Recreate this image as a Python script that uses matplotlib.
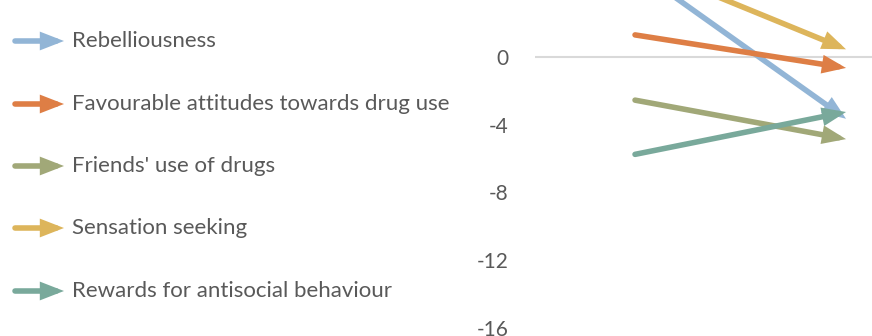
import matplotlib
matplotlib.use("Agg")
import matplotlib.pyplot as plt
from matplotlib.patches import FancyArrowPatch

plt.rcParams['font.family'] = ['Lato', 'DejaVu Sans']

series = ["Rebelliousness", "Favourable attitudes towards drug use",
          "Friends' use of drugs", "Sensation seeking",
          "Rewards for antisocial behaviour"]
start_vals = [5.2, 1.3, -2.55, 5.55, -5.75]
end_vals = [-3.65, -0.65, -4.85, 0.45, -3.25]
colors = ["#92b5d6", "#de7e45", "#a1a878", "#ddb55b", "#79a99b"]
yticks = [0, -4, -8, -12, -16]

W, H = 872, 336
fig = plt.figure(figsize=(W / 100, H / 100), dpi=100)

ax_left, ax_right = 535, 872
ax = fig.add_axes([ax_left / W, 0, (ax_right - ax_left) / W, 1])
ax.set_xlim(-0.474, 1.123)
ax.set_ylim(-16.47, 3.36)
for s in ax.spines.values():
    s.set_visible(False)
ax.set_xticks([])
ax.set_yticks(yticks)
ax.set_yticklabels([str(t) for t in yticks], fontsize=15, color="#595959")
ax.tick_params(axis='y', length=0, pad=19)
ax.axhline(0, color="#d9d9d9", lw=1.5, zorder=1)

astyle = "-|>,head_length=0.9,head_width=0.35"
for sv, ev, c in zip(start_vals, end_vals, colors):
    ax.annotate("", xy=(1, ev), xytext=(0, sv),
                arrowprops=dict(arrowstyle=astyle, mutation_scale=11,
                                color=c, lw=4.0, shrinkA=0, shrinkB=0,
                                capstyle='round', joinstyle='miter'),
                zorder=3)

# legend
leg_y = [41, 104, 166, 228, 291]
for name, c, y in zip(series, colors, leg_y):
    fy = 1 - y / H
    fig.add_artist(FancyArrowPatch(
        (15 / W, fy), (64 / W, fy), transform=fig.transFigure,
        arrowstyle=astyle, mutation_scale=11, joinstyle='miter',
        color=c, lw=4.0, shrinkA=0, shrinkB=0, capstyle='round'))
    fig.text(72 / W, fy, name, fontsize=16, color="#595959",
             va="center", ha="left")

fig.savefig("out.png", dpi=100)
